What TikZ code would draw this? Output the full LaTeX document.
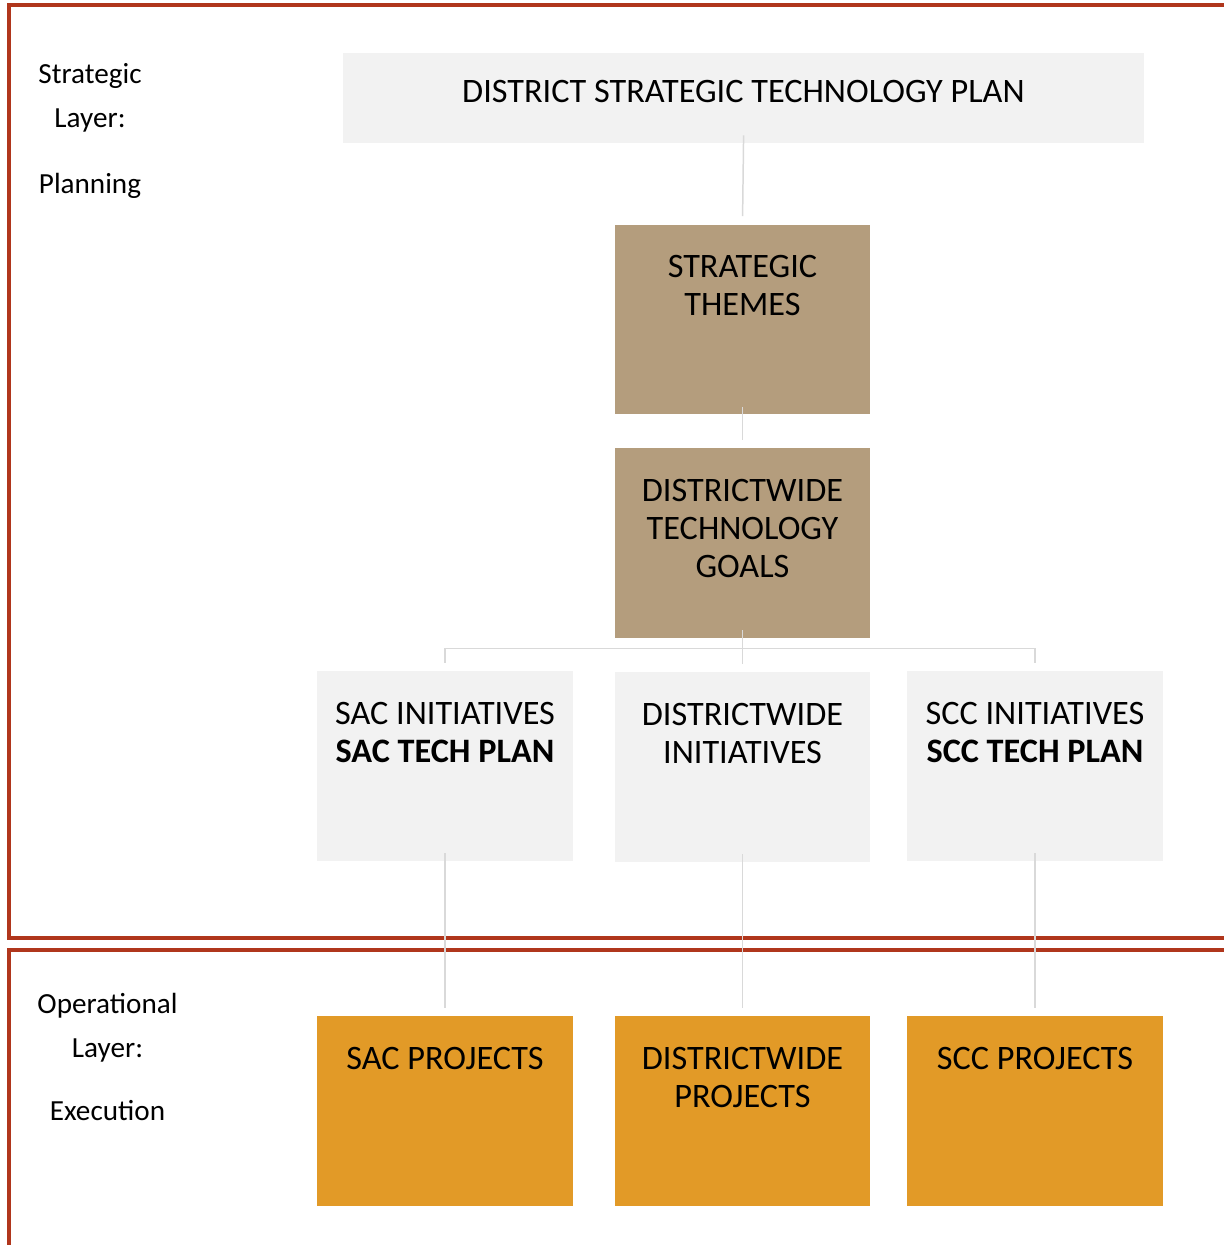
\documentclass[tikz,border=0pt]{standalone}
\usepackage{fontspec}
\setmainfont{Carlito}
\usepackage{tikz}
\usetikzlibrary{calc}
\definecolor{framered}{HTML}{B0361C}
\definecolor{boxgray}{HTML}{F2F2F2}
\definecolor{boxtan}{HTML}{B49D7D}
\definecolor{boxorange}{HTML}{E29A27}
\definecolor{linkgray}{HTML}{D9D9D9}
\tikzset{
    layerframe/.style={
        draw=framered,
        line width=2pt
    },
    planbox/.style={
        fill=boxgray,
        minimum width=16.02cm,
        minimum height=1.8cm,
        inner sep=0pt
    },
    themebox/.style={
        fill=boxtan,
        minimum width=5.1cm,
        minimum height=3.8cm,
        inner sep=0pt
    },
    initbox/.style={
        fill=boxgray,
        minimum width=5.12cm,
        minimum height=3.8cm,
        inner sep=0pt
    },
    projbox/.style={
        fill=boxorange,
        minimum width=5.12cm,
        minimum height=3.8cm,
        inner sep=0pt
    },
    boxline/.style={
        anchor=north,
        align=center,
        inner sep=0pt,
        font=\fontsize{19.5}{21.6}\selectfont
    },
    layerlabel/.style={
        anchor=north,
        align=center,
        inner sep=0pt,
        font=\fontsize{16.6}{24.9}\selectfont
    },
    link/.style={
        draw=linkgray,
        line width=0.85pt,
        shorten <=-0.16cm,
        shorten >=0.16cm
    }
}

\begin{document}
\begin{tikzpicture}[x=0.02cm,y=-0.02cm]

    \useasboundingbox (0,0) rectangle (1224,1245);
    \clip (0,0) rectangle (1224,1245);

    %% Layers
    \draw [layerframe] (9,5) rectangle (1260,938);
    \draw [layerframe] (9,950) rectangle (1260,1290);
    \node (LS) [layerlabel] at (90,63) {Strategic\\Layer:\\[12.6pt]Planning};
    \node (LO) [layerlabel] at (107.5,993) {Operational\\Layer:\\[11pt]Execution};

    %% Planning: plan, themes, goals
    \node (P0) [planbox] at (743.5,98) {};
    \node [boxline] at ($(P0.north)+(0,27)$) {DISTRICT STRATEGIC TECHNOLOGY PLAN};

    \node (T1) [themebox] at (742.5,319.5) {};
    \node [boxline] at ($(T1.north)+(0,31)$) {STRATEGIC\\THEMES};

    \node (G1) [themebox] at (742.5,543) {};
    \node [boxline] at ($(G1.north)+(0,31)$) {DISTRICTWIDE\\TECHNOLOGY\\GOALS};

    %% Initiatives
    \node (I1) [initbox] at (445,766) {};
    \node [boxline] at ($(I1.north)+(0,31)$) {SAC INITIATIVES\\\textbf{SAC TECH PLAN}};

    \node (I2) [initbox] at (742.5,767) {};
    \node [boxline] at ($(I2.north)+(0,31)$) {DISTRICTWIDE\\INITIATIVES};

    \node (I3) [initbox] at (1035,766) {};
    \node [boxline] at ($(I3.north)+(0,31)$) {SCC INITIATIVES\\\textbf{SCC TECH PLAN}};

    %% Execution: projects
    \node (J1) [projbox] at (445,1111) {};
    \node [boxline] at ($(J1.north)+(0,31)$) {SAC PROJECTS};

    \node (J2) [projbox] at (742.5,1111) {};
    \node [boxline] at ($(J2.north)+(0,31)$) {DISTRICTWIDE\\PROJECTS};

    \node (J3) [projbox] at (1035,1111) {};
    \node [boxline] at ($(J3.north)+(0,31)$) {SCC PROJECTS};

    %% Connectors
    \draw [link] (P0.south) -- (T1.north);
    \draw [link] (T1.south) -- (G1.north);
    \coordinate (F) at ($(G1.south)+(0,10)$);
    \draw [link] (G1.south) -- (F) -| (I1.north);
    \draw [link] (G1.south) -- (I2.north);
    \draw [link] (G1.south) -- (F) -| (I3.north);
    \draw [link] (I1.south) -- (J1.north);
    \draw [link] (I2.south) -- (J2.north);
    \draw [link] (I3.south) -- (J3.north);

\end{tikzpicture}
\end{document}
